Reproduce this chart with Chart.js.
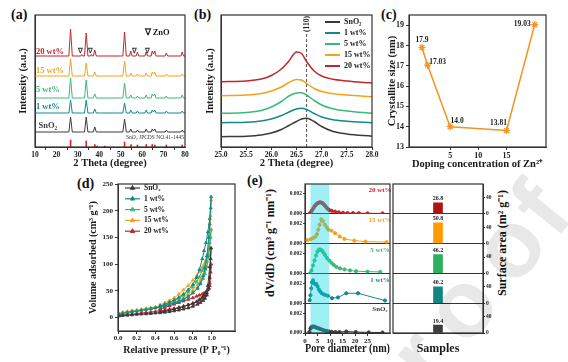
<!DOCTYPE html>
<html>
<head>
<meta charset="utf-8">
<title>Zn-doped SnO2</title>
<script src="https://cdn.jsdelivr.net/npm/chart.js@4.4.1/dist/chart.umd.min.js"></script>
<style>
  body { margin: 0; background: #fff; }
  #fig { position: relative; width: 568px; height: 362px; overflow: hidden; background: #fff; }
  #fig canvas { position: absolute; }
  .tag { position: absolute; font: bold 14px/14px 'Liberation Serif', serif; color: #111; }
  .vt { position: absolute; font: bold 12px 'Liberation Serif', serif; color: #111; white-space: nowrap;
        transform: translate(-50%, -50%) rotate(-90deg); }
</style>
</head>
<body>
<div id="fig">
  <div class="tag" style="left:11px;top:8px">(a)</div>
  <div class="tag" style="left:194px;top:8px">(b)</div>
  <div class="tag" style="left:381px;top:8px">(c)</div>
  <div class="tag" style="left:77px;top:177px">(d)</div>
  <div class="tag" style="left:247px;top:174px">(e)</div>
  <div class="vt" style="left:269px;top:243px">dV/dD (cm³ g⁻¹ nm⁻¹)</div>
  <div class="vt" style="left:501px;top:243px">Surface area (m² g⁻¹)</div>
</div>
<script>
// ---------- data ----------
var names = ['SnO₂', '1 wt%', '5 wt%', '15 wt%', '20 wt%'];
var colors = ['#3b3b3b', '#14898c', '#3cb97a', '#f7a11a', '#c1272d'];

// (a) XRD patterns (stacked with offsets, arbitrary units)
var xrdTheta = [10, 25.8, 26.6, 27.4, 31.4, 31.8, 32.2, 33.1, 33.9, 34.7, 35.9, 36.3, 36.7, 37.2, 37.9, 38.6,
  51.0, 51.8, 52.6, 54.1, 54.7, 55.3, 57.2, 57.8, 58.4, 61.3, 61.9, 62.5, 64.2, 64.7, 65.3, 65.9, 66.5,
  70.7, 71.3, 71.9, 78.1, 78.7, 79.3, 80];
var xrdSnO2 = [15, 15, 30, 15, 15, 15, 15, 15, 30, 15, 15, 15, 15, 15, 20, 15, 15, 28, 15, 15, 18, 15, 15, 17, 15,
  15, 18, 15, 15, 18, 16, 18, 15, 15, 17, 15, 15, 17, 15, 15];
var xrd1 = [34, 34, 47, 34, 34, 34, 34, 34, 47, 34, 34, 34, 34, 34, 38, 34, 34, 44, 34, 34, 37, 34, 34, 36, 34,
  34, 37, 34, 34, 37, 35, 37, 34, 34, 36, 34, 34, 36, 34, 34];
var xrd5 = [49, 49, 69, 49, 49, 49, 49, 49, 67, 49, 49, 49, 49, 49, 53, 49, 49, 64, 49, 49, 52, 49, 49, 51, 49,
  49, 52, 49, 49, 53, 51, 53, 49, 49, 51, 49, 49, 52, 49, 49];
var xrd15 = [71, 71, 88, 71, 71, 71, 71, 71, 84, 71, 71, 71, 71, 71, 75, 71, 71, 86, 71, 71, 74, 71, 71, 73, 71,
  71, 74, 71, 71, 75, 73, 75, 71, 71, 73, 71, 71, 73, 71, 71];
var xrd20 = [91, 91, 118, 91, 91, 92.5, 91, 91, 114, 91, 91, 92.5, 91, 91, 97, 91, 91, 115, 91, 91, 96, 91, 91, 95, 91,
  91, 95, 91, 91, 96, 93, 96, 91, 91, 94, 91, 91, 95, 91, 91];
var refTheta = [26.6, 33.9, 37.9, 39.0, 42.6, 51.8, 54.8, 57.8, 61.9, 64.7, 65.9, 71.3, 78.7];
var refHeight = [7, 6, 2.5, 1, 1, 5, 2.5, 2, 2.5, 2.5, 2, 2, 2];
var znoTheta = [31.4, 36.0, 56.4, 62.5];

// (b) (110) reflection
var zoomTheta = [25.0, 25.5, 25.8, 26.0, 26.2, 26.35, 26.5, 26.6, 26.7, 26.85, 27.0, 27.2, 27.5, 28.0];
var zoomSnO2 = [10.3, 10.8, 12, 14, 17.5, 21.5, 25.5, 28, 28.7, 25.5, 20.5, 16, 13, 10.8];
var zoom1 = [24.3, 24.8, 26, 28, 31.5, 35, 38, 38.7, 37.5, 33.5, 30, 27.5, 25.8, 24.3];
var zoom5 = [33.7, 34.5, 36.5, 40, 45.5, 51, 54, 54.3, 52, 46.5, 42, 38.5, 36, 33.7];
var zoom15 = [51.3, 52, 53.5, 56, 60, 64.5, 67.5, 67, 63.5, 58.5, 55.5, 53.5, 52, 50.3];
var zoom20 = [65.3, 66, 68, 71.5, 78, 86, 95, 93.5, 85.5, 76, 71, 68, 66, 64];
var peak110 = 26.7;

// (c) crystallite size
var dopeLevel = [0, 1, 5, 15, 20];
var crystSize = [17.9, 17.03, 14.0, 13.81, 19.03];

// (d) N2 isotherms (adsorption then desorption)
var relP = [0.01, 0.05, 0.1, 0.15, 0.2, 0.25, 0.3, 0.35, 0.4, 0.45, 0.5, 0.55, 0.6, 0.65, 0.7, 0.75, 0.8, 0.85, 0.88, 0.91,
  0.93, 0.95, 0.97, 0.98, 0.99, 0.995, 0.98, 0.96, 0.94, 0.92, 0.9, 0.87, 0.84, 0.8, 0.75, 0.7, 0.65, 0.6, 0.55, 0.5, 0.45];
var volSnO2 = [3, 4, 4.5, 5, 6, 6.5, 7, 7.5, 8.5, 9, 10, 11, 12.5, 14, 16, 18, 21, 25, 28, 32,
  36, 42, 55, 75, 110, 130, 95, 60, 47, 42, 38, 34, 30, 27, 24, 21, 18.5, 16, 14, 12, 10.5];
var vol1 = [6, 8, 9.5, 11, 12, 13.5, 15, 16.5, 18, 20, 22, 24.5, 27, 30, 34, 39, 46, 55, 64, 78,
  92, 115, 150, 175, 205, 226, 185, 160, 140, 125, 110, 90, 75, 62, 52, 44, 38, 33, 29, 25, 22];
var vol5 = [7, 9, 10.5, 12, 13, 14.5, 16, 17.5, 19, 21, 23, 25, 28, 31, 35, 40, 47, 55, 63, 73,
  82, 95, 115, 130, 150, 165, 140, 118, 105, 95, 88, 76, 67, 58, 49, 42, 36, 31, 27, 24, 21];
var vol15 = [8, 10, 11.5, 13, 14, 15.5, 17, 18.5, 20, 22, 24, 26.5, 29, 33, 38, 44, 52, 62, 70, 80,
  90, 105, 130, 155, 190, 220, 150, 120, 108, 100, 94, 86, 78, 70, 60, 52, 44, 37, 32, 28, 24];
var vol20 = [4, 5, 6, 6.5, 7.5, 8.5, 9.5, 10.5, 11.5, 13, 14, 15.5, 17, 19, 21, 23.5, 26, 30, 33, 37,
  41, 46, 55, 65, 85, 100, 60, 52, 48, 46, 44, 42, 40, 37, 34, 31, 28, 25, 22, 19, 16];

// (e) pore size distributions, dV/dD in 10^-3 cm3 g-1 nm-1
var pd0 = [1.8, 2.2, 2.6, 3.0, 3.5, 4.0, 4.5, 5.0, 5.6, 6.2, 7.0, 7.8, 8.7, 9.6, 10.7, 12.2, 13.8, 16.5, 20.3, 25.5, 31.0];
var dv0 = [0.1, 0.45, 0.6, 0.65, 0.65, 0.6, 0.55, 0.5, 0.45, 0.4, 0.32, 0.25, 0.2, 0.15, 0.12, 0.1, 0.1, 0.15, 0.1, 0.06, 0.05];
var pd1 = [1.9, 2.2, 2.5, 2.8, 3.2, 3.6, 4.0, 4.5, 5.0, 5.5, 6.0, 6.7, 7.4, 8.2, 9.2, 10.8, 13.2, 16.5, 21.2, 32.0];
var dv1 = [0.3, 0.8, 1.5, 2.1, 2.3, 2.0, 1.95, 1.95, 1.7, 1.4, 1.2, 1.0, 0.9, 0.82, 0.75, 0.5, 0.58, 1.0, 1.0, 0.27];
var pd5 = [2.0, 2.6, 3.2, 3.8, 4.4, 5.0, 5.6, 6.2, 6.8, 7.4, 8.0, 8.8, 9.7, 10.6, 11.5, 12.6, 14.0, 15.8, 18.0, 20.4, 25.0, 30.1];
var dv5 = [0.0, 0.3, 0.8, 1.3, 1.8, 2.2, 2.4, 2.4, 2.3, 2.1, 1.85, 1.55, 1.3, 1.05, 0.85, 0.65, 0.5, 0.4, 0.3, 0.22, 0.18, 0.15];
var pd15 = [0.9, 2.2, 3.2, 4.2, 4.8, 5.3, 5.8, 6.5, 7.2, 8.0, 8.8, 9.4, 10.6, 12.0, 13.9, 15.8, 19.7, 24.2, 32.6];
var dv15 = [0.35, 0.45, 0.55, 0.7, 0.95, 1.4, 1.9, 2.45, 2.25, 1.9, 1.6, 1.4, 1.3, 1.05, 0.72, 0.47, 0.3, 0.2, 0.15];
var pd20 = [1.8, 2.3, 2.8, 3.3, 3.8, 4.3, 4.8, 5.3, 5.8, 6.3, 6.8, 7.3, 7.8, 8.3, 8.8, 9.3, 9.8, 10.7, 12.0, 13.5,
  15.2, 17.0, 19.2, 21.5, 25.0, 31.0];
var dv20 = [0.0, 0.15, 0.35, 0.55, 0.75, 0.9, 1.02, 1.1, 1.15, 1.15, 1.1, 1.0, 0.88, 0.72, 0.58, 0.45, 0.35, 0.3, 0.22, 0.15,
  0.1, 0.08, 0.07, 0.06, 0.05, 0.04];
var poreWindow = [2.2, 9.6];
var areaValues = [19.4, 40.2, 46.2, 50.8, 26.8];   // SnO2, 1, 5, 15, 20 wt%
var barColors = ['#3d3d3d', '#138585', '#2fae5f', '#ff9a00', '#b3120f'];

// ---------- helpers ----------
Chart.defaults.font.family = "'Liberation Serif', 'Times New Roman', serif";
Chart.defaults.font.weight = 'bold';
Chart.defaults.color = '#1a1a1a';
Chart.defaults.animation = false;
Chart.defaults.plugins.legend.display = false;
Chart.defaults.plugins.tooltip.enabled = false;

function makeCanvas(x, y, w, h) {
  var c = document.createElement('canvas');
  c.width = w; c.height = h;
  c.style.left = x + 'px'; c.style.top = y + 'px';
  c.style.width = w + 'px'; c.style.height = h + 'px';
  document.getElementById('fig').appendChild(c);
  return c.getContext('2d');
}
function pts(xs, ys) {
  return xs.map(function (x, i) { return {x: x, y: ys[i]}; });
}
function fixW(w) { return function (s) { s.width = w; }; }
function fixH(h) { return function (s) { s.height = h; }; }
function keepTicks(test) {
  return function (s) { s.ticks = s.ticks.filter(function (t) { return test(t.value); }); };
}
var axisGrid = {drawOnChartArea: false, tickLength: 3, color: '#333'};

var frame = {
  id: 'frame',
  afterDraw: function (chart) {
    var a = chart.chartArea, ctx = chart.ctx;
    ctx.save();
    ctx.strokeStyle = '#333'; ctx.lineWidth = 1.2;
    ctx.strokeRect(a.left, a.top, a.right - a.left, a.bottom - a.top);
    ctx.restore();
  }
};

function notes(items) {
  return {
    id: 'notes',
    afterDatasetsDraw: function (chart) {
      var ctx = chart.ctx;
      items.forEach(function (n) {
        var xs = chart.scales[n.xAxis || 'x'], ys = chart.scales[n.yAxis || 'y'];
        ctx.save();
        ctx.translate(xs.getPixelForValue(n.x) + (n.dx || 0), ys.getPixelForValue(n.y) + (n.dy || 0));
        if (n.rot) ctx.rotate(n.rot);
        ctx.font = (n.weight || 'bold') + ' ' + (n.size || 8) + "px 'Liberation Serif', serif";
        ctx.fillStyle = n.color || '#1a1a1a';
        ctx.textAlign = n.align || 'center';
        ctx.textBaseline = 'middle';
        ctx.fillText(n.text, 0, 0);
        ctx.restore();
      });
    }
  };
}

function keyBox(x0, y0, rowH, len, size) {
  return {
    id: 'keyBox',
    afterDraw: function (chart) {
      var ctx = chart.ctx, row = 0;
      chart.data.datasets.forEach(function (ds) {
        if (!ds.key) return;
        var y = y0 + row * rowH;
        ctx.save();
        ctx.strokeStyle = ds.borderColor; ctx.lineWidth = ds.keyWidth || 2;
        ctx.beginPath(); ctx.moveTo(x0, y); ctx.lineTo(x0 + len, y); ctx.stroke();
        if (ds.pointStyle && Chart.helpers && Chart.helpers.drawPoint) {
          ctx.fillStyle = ds.borderColor; ctx.lineWidth = 1;
          Chart.helpers.drawPoint(ctx, {pointStyle: ds.pointStyle, radius: 2.5, borderWidth: 1, rotation: 0}, x0 + len / 2, y);
        }
        ctx.fillStyle = '#1a1a1a';
        ctx.font = 'bold ' + size + "px 'Liberation Serif', serif";
        ctx.textAlign = 'left'; ctx.textBaseline = 'middle';
        ctx.fillText(ds.key, x0 + len + 4, y);
        ctx.restore();
        row++;
      });
    }
  };
}

// ---------- (a) XRD ----------
var xrdSets = [xrdSnO2, xrd1, xrd5, xrd15, xrd20].map(function (s, i) {
  return {data: pts(xrdTheta, s), borderColor: colors[i], borderWidth: 1, pointRadius: 0, tension: 0};
});
xrdSets.push({type: 'bar', data: pts(refTheta, refHeight), backgroundColor: '#e52222', barThickness: 1, grouped: false});
var aNotes = [
  {x: 17, y: 95, text: '20 wt%', color: colors[4], size: 8.5},
  {x: 17, y: 76, text: '15 wt%', color: colors[3], size: 8.5},
  {x: 16, y: 57, text: '5 wt%', color: colors[2], size: 8.5},
  {x: 16, y: 40, text: '1 wt%', color: colors[1], size: 8.5},
  {x: 16, y: 21, text: 'SnO₂', color: colors[0], size: 8.5},
  {x: 67, y: 114, text: '∇ ZnO', size: 8.5},
  {x: 79.5, y: 9, text: 'SnO₂ JPCDS NO.41-1445', align: 'right', size: 5.5, weight: 'normal', color: '#333'}
];
znoTheta.forEach(function (t) { aNotes.push({x: t, y: 95.5, text: '∇', size: 6.5, color: '#333'}); });

new Chart(makeCanvas(0, 0, 190, 172), {
  type: 'line',
  data: {datasets: xrdSets},
  options: {
    responsive: false,
    layout: {padding: {top: 15, right: 5, left: 0, bottom: 0}},
    scales: {
      x: {type: 'linear', min: 10, max: 80, offset: false, ticks: {stepSize: 10, font: {size: 7.5}, padding: 1},
          grid: axisGrid, border: {color: '#333'},
          title: {display: true, text: '2 Theta (degree)', font: {size: 10.5}, padding: {top: 0, bottom: 2}},
          afterFit: fixH(25)},
      y: {min: 0, max: 132, ticks: {display: false}, grid: {display: false}, border: {color: '#333'},
          title: {display: true, text: 'Intensity (a.u.)', font: {size: 10.5}, padding: {top: 17, bottom: 0}},
          afterFit: fixW(35)}
    }
  },
  plugins: [frame, notes(aNotes)]
});

// ---------- (b) (110) peak ----------
var zoomSets = [zoomSnO2, zoom1, zoom5, zoom15, zoom20].map(function (s, i) {
  return {data: pts(zoomTheta, s), borderColor: colors[i], borderWidth: 1.5, pointRadius: 0,
          cubicInterpolationMode: 'monotone', key: names[i]};
});
zoomSets.push({data: [{x: peak110, y: 0}, {x: peak110, y: 114}], borderColor: '#555', borderWidth: 1,
               borderDash: [3, 2], pointRadius: 0});
new Chart(makeCanvas(185, 0, 195, 172), {
  type: 'line',
  data: {datasets: zoomSets},
  options: {
    responsive: false,
    layout: {padding: {top: 15, right: 8, left: 0, bottom: 0}},
    scales: {
      x: {type: 'linear', min: 25, max: 28, ticks: {stepSize: 0.5, font: {size: 7.5}, padding: 1,
          callback: function (v) { return v.toFixed(1); }},
          grid: axisGrid, border: {color: '#333'},
          title: {display: true, text: '2 Theta (degree)', font: {size: 10.5}, padding: {top: 0, bottom: 2}},
          afterFit: fixH(25)},
      y: {min: 0, max: 132, ticks: {display: false}, grid: {display: false}, border: {color: '#333'},
          title: {display: true, text: 'Intensity (a.u.)', font: {size: 10.5}, padding: {top: 19, bottom: 0}},
          afterFit: fixW(36)}
    }
  },
  plugins: [frame, keyBox(140, 22, 11, 15, 8),
            notes([{x: peak110, y: 123, text: '(110)', size: 7.5, rot: -Math.PI / 2}])]
});

// ---------- (c) crystallite size ----------
new Chart(makeCanvas(370, 0, 198, 172), {
  type: 'line',
  data: {datasets: [{data: pts(dopeLevel, crystSize), borderColor: '#f39321', backgroundColor: '#f39321',
          borderWidth: 1.5, pointStyle: 'star', pointRadius: 3.5, pointBorderWidth: 1.2, tension: 0}]},
  options: {
    responsive: false,
    layout: {padding: {top: 15, right: 22, left: 0, bottom: 0}},
    scales: {
      x: {type: 'linear', min: -2.3, max: 22, ticks: {stepSize: 5, font: {size: 8}, padding: 1},
          afterBuildTicks: keepTicks(function (v) { return v >= 0 && v <= 20 && v % 5 === 0; }),
          grid: axisGrid, border: {color: '#333'},
          title: {display: true, text: 'Doping concentration of Zn²⁺', font: {size: 10.5}, padding: {top: 0, bottom: 1}},
          afterFit: fixH(25)},
      y: {min: 13, max: 19.5, ticks: {stepSize: 1, font: {size: 8}, padding: 2},
          afterBuildTicks: keepTicks(function (v) { return v % 1 === 0; }),
          grid: axisGrid, border: {color: '#333'},
          title: {display: true, text: 'Crystallite size (nm)', font: {size: 10.5}, padding: {top: 16, bottom: 0}},
          afterFit: fixW(39)}
    }
  },
  plugins: [frame, notes([
    {x: 0, y: 17.9, dy: -7, text: '17.9', size: 7.5},
    {x: 1, y: 17.03, dx: 10, dy: -3, text: '17.03', size: 7.5},
    {x: 5, y: 14.0, dx: 7, dy: -6, text: '14.0', size: 7.5},
    {x: 15, y: 13.81, dx: -8, dy: -7, text: '13.81', size: 7.5},
    {x: 20, y: 19.03, dx: -4, text: '19.03', size: 7.5, align: 'right'}
  ])]
});

// ---------- (d) N2 isotherms ----------
var isoSets = [volSnO2, vol1, vol5, vol15, vol20].map(function (s, i) {
  return {data: pts(relP, s), borderColor: colors[i], backgroundColor: colors[i], borderWidth: 1,
          pointStyle: 'triangle', pointRadius: 1.8, pointBorderWidth: 0.8, tension: 0, key: names[i], keyWidth: 1.2};
});
new Chart(makeCanvas(80, 172, 165, 190), {
  type: 'line',
  data: {datasets: isoSets},
  options: {
    responsive: false,
    layout: {padding: {top: 12, right: 10, left: 0, bottom: 0}},
    scales: {
      x: {type: 'linear', min: 0, max: 1.25, ticks: {stepSize: 0.2, font: {size: 7}, padding: 0,
          callback: function (v) { return v.toFixed(1); }},
          afterBuildTicks: keepTicks(function (v) { return v <= 1.2001; }),
          grid: axisGrid, border: {color: '#333'},
          title: {display: true, text: 'Relative pressure (P P₀⁻¹)', font: {size: 10}, padding: {top: 0, bottom: 6}},
          afterFit: fixH(31)},
      y: {min: -25, max: 250, ticks: {stepSize: 50, font: {size: 7}, padding: 2},
          afterBuildTicks: keepTicks(function (v) { return v >= 0; }),
          grid: axisGrid, border: {color: '#333'},
          title: {display: true, text: 'Volume adsorbed (cm³ g⁻¹)', font: {size: 10}, padding: {top: 7, bottom: 0}},
          afterFit: fixW(38)}
    }
  },
  plugins: [frame, keyBox(45, 16, 10.8, 15, 7.5)]
});

// ---------- (e) pore size distribution, stacked panels ----------
// left-side stacked axes are laid out last-defined on top, so SnO2 is defined first
var poreX = [pd0, pd1, pd5, pd15, pd20];
var poreY = [dv0, dv1, dv5, dv15, dv20];
var poreSets = [], poreScales = {}, poreNotes = [];
var lineAt0 = function (c) { return c.tick && c.tick.value === 0 ? '#333' : 'rgba(0,0,0,0)'; };
for (var i = 0; i < 5; i++) {
  var id = 'p' + i;
  poreSets.push({data: pts(poreX[i], poreY[i]), yAxisID: id, borderColor: colors[i], backgroundColor: colors[i],
                 borderWidth: 1, pointRadius: 1.6, pointStyle: 'circle', tension: 0});
  poreScales[id] = {type: 'linear', position: 'left', stack: 'pore', stackWeight: 1, min: 0, max: 3,
    ticks: {stepSize: 1, font: {size: 5.5}, padding: 1,
            callback: (function (top) { return function (v) { return (v < 2.9 || top) ? (v * 0.001).toFixed(3) : ''; }; })(i === 4)},
    grid: {drawOnChartArea: true, color: lineAt0, tickColor: '#333', tickLength: 2},
    border: {color: '#333'}, afterFit: fixW(50)};
  poreNotes.push({x: 30, y: 2.35, yAxis: id, text: names[i], color: colors[i], size: 7});
}
poreScales.x = {type: 'linear', min: 0, max: 34, ticks: {stepSize: 5, font: {size: 7}, padding: 1},
  afterBuildTicks: keepTicks(function (v) { return v <= 30; }),
  grid: axisGrid, border: {color: '#333'},
  title: {display: true, text: 'Pore diameter (nm)', font: {size: 12}, padding: {top: 0, bottom: 6}},
  afterFit: fixH(29)};
var poreShade = {
  id: 'poreShade',
  afterDatasetsDraw: function (chart) {
    var a = chart.chartArea, xs = chart.scales.x, ctx = chart.ctx;
    var x0 = xs.getPixelForValue(poreWindow[0]), x1 = xs.getPixelForValue(poreWindow[1]);
    ctx.save();
    ctx.fillStyle = 'rgba(0, 215, 230, 0.38)';
    ctx.fillRect(x0, a.top, x1 - x0, a.bottom - a.top);
    ctx.restore();
  }
};
new Chart(makeCanvas(255, 172, 140, 190), {
  type: 'line',
  data: {datasets: poreSets},
  options: {
    responsive: false,
    layout: {padding: {top: 12, right: 2, left: 0, bottom: 0}},
    scales: poreScales
  },
  plugins: [poreShade, frame, notes(poreNotes)]
});

// ---------- (e) surface area bars ----------
// right-side stacked axes are laid out first-defined on top, so 20 wt% is defined first
var areaSets = [], areaScales = {};
for (var j = 4; j >= 0; j--) {
  var rid = 'r' + j;
  areaSets.push({data: [areaValues[j]], yAxisID: rid, backgroundColor: barColors[j], barThickness: 9, grouped: false});
  areaScales[rid] = {type: 'linear', position: 'right', stack: 'area', stackWeight: 1, min: 0, max: 73,
    ticks: {stepSize: 20, font: {size: 5.5}, padding: 1},
    afterBuildTicks: keepTicks(function (v) { return v <= 60; }),
    grid: {drawOnChartArea: true, color: lineAt0, tickColor: '#333', tickLength: 2},
    border: {color: '#333'}, afterFit: fixW(85)};
}
areaScales.x = {type: 'category', offset: true, ticks: {display: false}, grid: {display: false}, border: {color: '#333'},
  title: {display: true, text: 'Samples', font: {size: 12}, padding: {top: 0, bottom: 6}}, afterFit: fixH(29)};
var barValues = {
  id: 'barValues',
  afterDatasetsDraw: function (chart) {
    var ctx = chart.ctx;
    ctx.save();
    ctx.font = "bold 6px 'Liberation Serif', serif";
    ctx.fillStyle = '#1a1a1a'; ctx.textAlign = 'center'; ctx.textBaseline = 'bottom';
    chart.data.datasets.forEach(function (ds, k) {
      var el = chart.getDatasetMeta(k).data[0];
      ctx.fillText(ds.data[0].toFixed(1), el.x, el.y - 1);
    });
    ctx.restore();
  }
};
new Chart(makeCanvas(390, 172, 178, 190), {
  type: 'bar',
  data: {labels: ['samples'], datasets: areaSets},
  options: {
    responsive: false,
    layout: {padding: {top: 12, right: 0, left: 3, bottom: 0}},
    scales: areaScales
  },
  plugins: [frame, barValues]
});

// ---------- faint "proof" watermark across the lower right ----------
var wm = makeCanvas(0, 0, 568, 362);
wm.font = "bold 95px 'Liberation Sans', sans-serif";
wm.fillStyle = 'rgba(0,0,0,0.09)';
wm.textAlign = 'center';
wm.textBaseline = 'middle';
[['p', 372, 424], ['r', 424, 361], ['o', 465, 310], ['o', 513, 250], ['f', 545, 212]].forEach(function (g) {
  wm.save();
  wm.translate(g[1], g[2]);
  wm.rotate(-51 * Math.PI / 180);
  wm.fillText(g[0], 0, 0);
  wm.restore();
});
</script>
</body>
</html>
